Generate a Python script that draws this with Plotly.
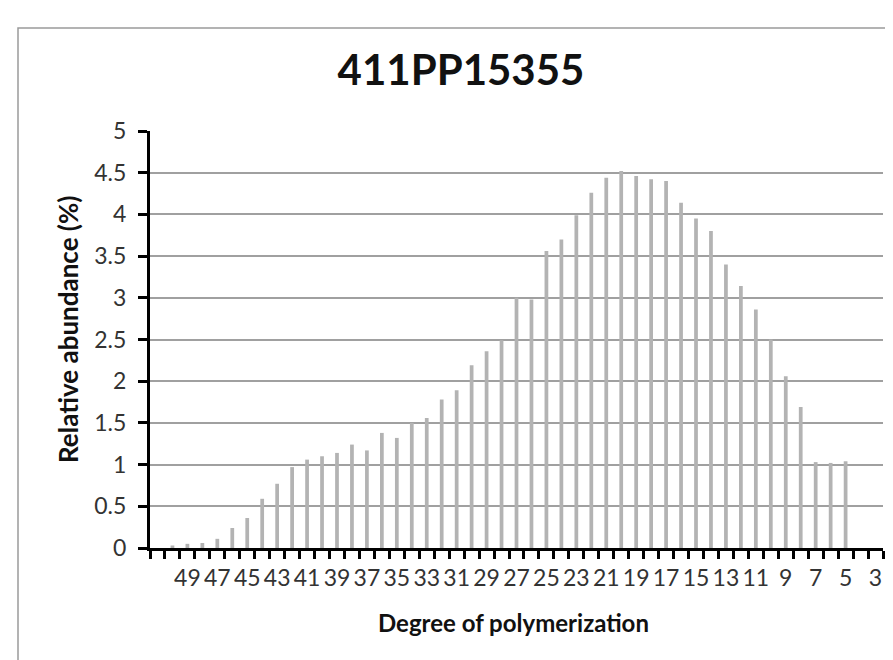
import plotly.graph_objects as go

# Degree of polymerization categories (left to right)
dp_categories = ["51", "50", "49", "48", "47", "46", "45", "44", "43", "42",
                 "41", "40", "39", "38", "37", "36", "35", "34", "33", "32",
                 "31", "30", "29", "28", "27", "26", "25", "24", "23", "22",
                 "21", "20", "19", "18", "17", "16", "15", "14", "13", "12",
                 "11", "10", "9", "8", "7", "6", "5", "4", "3"]

# Relative abundance (%)
abundance = [0.00, 0.03, 0.05, 0.06, 0.11, 0.24, 0.36, 0.59, 0.77, 0.97,
             1.06, 1.10, 1.14, 1.24, 1.17, 1.38, 1.32, 1.50, 1.56, 1.78,
             1.89, 2.19, 2.36, 2.49, 3.00, 2.98, 3.56, 3.70, 3.99, 4.26,
             4.44, 4.52, 4.46, 4.42, 4.40, 4.14, 3.95, 3.80, 3.40, 3.14,
             2.86, 2.50, 2.06, 1.69, 1.03, 1.02, 1.04, 0.00, 0.00]

# Tick labels (every other category labelled)
tick_labels = ["", "", "49", "", "47", "", "45", "", "43", "",
               "41", "", "39", "", "37", "", "35", "", "33", "",
               "31", "", "29", "", "27", "", "25", "", "23", "",
               "21", "", "19", "", "17", "", "15", "", "13", "",
               "11", "", "9", "", "7", "", "5", "", "3"]

y_ticks = [0, 0.5, 1, 1.5, 2, 2.5, 3, 3.5, 4, 4.5, 5]
y_tick_text = ["0", "0.5", "1", "1.5", "2", "2.5", "3", "3.5", "4", "4.5", "5"]

chart_title = "411PP15355"
x_title = "Degree of polymerization"
y_title = "Relative abundance (%)"

FONT = "Lato"

fig = go.Figure()
fig.add_trace(go.Bar(
    x=dp_categories,
    y=abundance,
    width=0.25,
    marker=dict(color="#b3b3b3", line=dict(width=0)),
    showlegend=False,
))

L, R, T, B = 142, 18, 123, 120
W, H = 893, 660
pw, ph = W - L - R, H - T - B

def px_to_paper_x(px):
    return (px - L) / pw

def px_to_paper_y(py):
    return (H - B - py) / ph

fig.update_layout(
    width=W, height=H,
    margin=dict(l=L, r=R, t=T, b=B),
    paper_bgcolor="white",
    plot_bgcolor="white",
    bargap=0.75,
    title=dict(
        text="<b>" + chart_title + "</b>",
        x=453 / W, xanchor="center",
        xref="container",
        y=1 - 62 / H, yanchor="middle",
        yref="container",
        font=dict(family=FONT, size=42, color="#111111"),
    ),
    font=dict(family=FONT, color="#333333"),
    shapes=[dict(
        type="rect", xref="paper", yref="paper",
        x0=px_to_paper_x(10), x1=px_to_paper_x(905),
        y0=px_to_paper_y(680), y1=px_to_paper_y(20),
        line=dict(color="#9a9a9a", width=1.5),
        fillcolor="rgba(0,0,0,0)",
        layer="below",
    )],
    annotations=[
        dict(text="<b>" + x_title + "</b>", xref="paper", yref="paper",
             x=px_to_paper_x(505), y=px_to_paper_y(614),
             xanchor="center", yanchor="middle", showarrow=False,
             font=dict(family=FONT, size=24, color="#111111")),
        dict(text="<b>" + y_title + "</b>", xref="paper", yref="paper",
             x=px_to_paper_x(60), y=px_to_paper_y(322),
             xanchor="center", yanchor="middle", showarrow=False,
             textangle=-90,
             font=dict(family=FONT, size=26, color="#111111")),
    ],
)

fig.update_xaxes(
    type="category",
    tickmode="array",
    tickvals=dp_categories,
    ticktext=tick_labels,
    tickson="boundaries",
    ticks="outside",
    ticklen=8,
    tickwidth=2.5,
    tickcolor="black",
    tickangle=0,
    ticklabelstandoff=7,
    tickfont=dict(family=FONT, size=23, color="#333333"),
    showline=True,
    linecolor="black",
    linewidth=3,
    showgrid=False,
    zeroline=False,
    automargin=False,
)

fig.update_yaxes(
    range=[0, 5],
    tickmode="array",
    tickvals=y_ticks,
    ticktext=y_tick_text,
    ticks="outside",
    ticklen=9,
    tickwidth=2.5,
    tickcolor="black",
    ticklabelstandoff=7,
    tickfont=dict(family=FONT, size=23, color="#333333"),
    showline=True,
    linecolor="black",
    linewidth=3,
    showgrid=True,
    gridcolor="#a0a0a0",
    gridwidth=1.6,
    zeroline=False,
    automargin=False,
)

fig.write_html("out.html")
